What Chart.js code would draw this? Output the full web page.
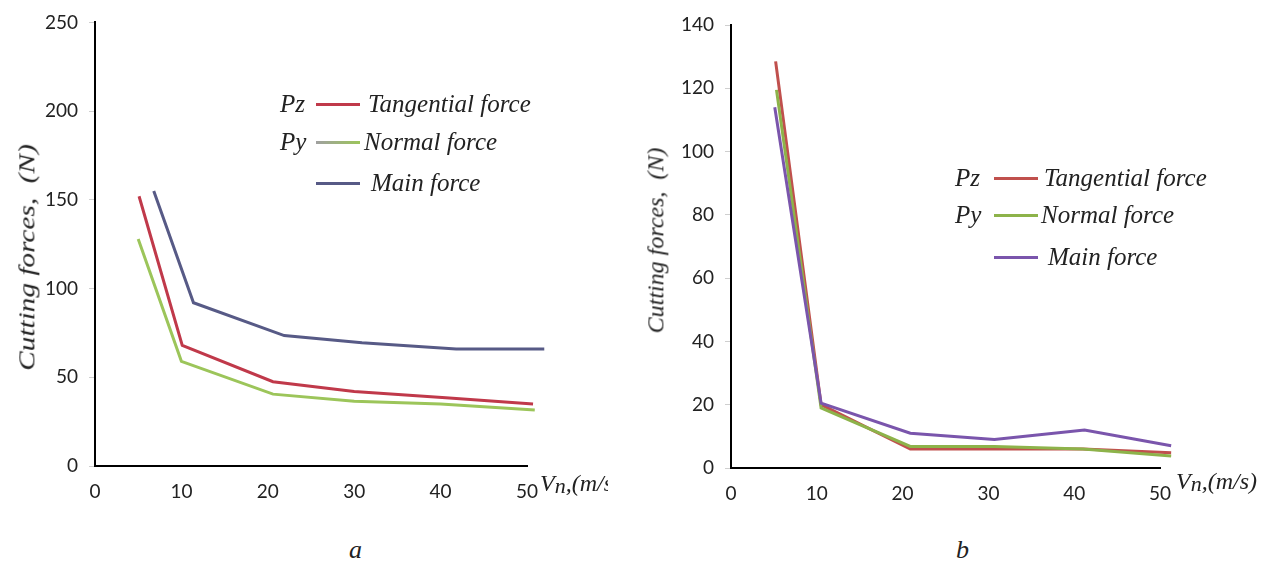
<!DOCTYPE html>
<html lang="en">
<head>
  <meta charset="UTF-8">
  <title>Cutting forces vs cutting speed</title>
  <script src="https://cdn.jsdelivr.net/npm/chart.js"></script>
  <style>
    body { margin: 0; background: #fff; width: 1271px; height: 562px; position: relative; overflow: hidden; }
    .panel { position: absolute; top: 0; height: 520px; }
    .serif { font-family: "Liberation Serif", "DejaVu Serif", serif; font-style: italic; color: #222; position: absolute; white-space: nowrap; }
    .ytitle { font-size: 24px; transform-origin: center center; }
    .leg { font-size: 25px; line-height: 25px; }
    .swatch { position: absolute; height: 3px; width: 44px; }
    .vn { font-size: 24px; overflow: hidden; }
    .vn sub { font-size: 22px; vertical-align: -2px; }
    .cap { font-size: 26px; }
  </style>
</head>
<body>
  <div class="panel" style="left:0;width:640px"><canvas id="chartA"></canvas></div>
  <div class="panel" style="left:640px;width:631px"><canvas id="chartB"></canvas></div>

  <!-- axis titles -->
  <div class="serif ytitle" id="ytA">Cutting forces,&nbsp; (N)</div>
  <div class="serif ytitle" id="ytB">Cutting forces,&nbsp; (N)</div>
  <div class="serif vn" style="left:540px;top:470px;width:68px;height:34px">V<sub>n</sub>,(m/s)</div>
  <div class="serif vn" style="left:1176px;top:468px;width:93px;height:34px">V<sub>n</sub>,(m/s)</div>

  <!-- legends -->
  <div class="serif leg" style="left:280px;top:91px">Pz</div>
  <div class="swatch" style="left:316px;top:103px;background:#c0394a"></div>
  <div class="serif leg" style="left:368px;top:91px">Tangential force</div>
  <div class="serif leg" style="left:280px;top:129px">Py</div>
  <div class="swatch" style="left:316px;top:141px;background:linear-gradient(90deg,#a0a0a0,#9cc55a)"></div>
  <div class="serif leg" style="left:364px;top:129px">Normal force</div>
  <div class="swatch" style="left:316px;top:182px;background:#575a86"></div>
  <div class="serif leg" style="left:371px;top:170px">Main force</div>

  <div class="serif leg" style="left:955px;top:165px">Pz</div>
  <div class="swatch" style="left:994px;top:177px;background:#c0504d"></div>
  <div class="serif leg" style="left:1044px;top:165px">Tangential force</div>
  <div class="serif leg" style="left:955px;top:202px">Py</div>
  <div class="swatch" style="left:994px;top:214px;background:#8db34a"></div>
  <div class="serif leg" style="left:1041px;top:202px">Normal force</div>
  <div class="swatch" style="left:994px;top:256px;background:#7a55ac"></div>
  <div class="serif leg" style="left:1048px;top:244px">Main force</div>

  <div class="serif cap" style="left:349px;top:535px">a</div>
  <div class="serif cap" style="left:956px;top:535px">b</div>

  <script>
    // panel a
    const aPzX = [5.1, 10.1, 20.6, 30, 40.6, 50.7];
    const aPzY = [152, 68, 47.5, 42, 38.5, 35];
    const aPyX = [5, 10, 20.6, 30, 40, 50.9];
    const aPyY = [128, 59, 40.5, 36.5, 35, 31.5];
    const aMainX = [6.8, 11.4, 21.9, 30.9, 41.8, 52];
    const aMainY = [155, 92, 73.5, 69.5, 66, 66];

    // panel b
    const bPzX = [5.2, 10.5, 20.9, 30.7, 41, 51.3];
    const bPzY = [128.5, 20, 6, 6, 6, 4.8];
    const bPyX = [5.3, 10.5, 20.9, 30.7, 41, 51.3];
    const bPyY = [119.5, 19, 6.8, 6.8, 6, 3.8];
    const bMainX = [5.1, 10.5, 20.9, 30.7, 41.2, 51.3];
    const bMainY = [114, 20.5, 11, 9, 12, 7];

    const xTicks = [0, 10, 20, 30, 40, 50];

    function pts(xs, ys) {
      return xs.map((x, i) => ({ x: x, y: ys[i] }));
    }

    function line(label, xs, ys, color, order) {
      return {
        label: label,
        data: pts(xs, ys),
        borderColor: color,
        borderWidth: 3,
        pointRadius: 0,
        tension: 0,
        clip: false,
        order: order
      };
    }

    function makeChart(id, box, yMax, yStep, datasets) {
      const canvas = document.getElementById(id);
      canvas.width = box.w;
      canvas.height = 520;
      canvas.style.width = box.w + 'px';
      canvas.style.height = '520px';
      return new Chart(canvas.getContext('2d'), {
        type: 'line',
        data: { datasets: datasets },
        options: {
          responsive: false,
          animation: false,
          layout: { padding: { left: 0, top: box.top, right: box.w - box.right, bottom: 0 } },
          plugins: { legend: { display: false }, tooltip: { enabled: false } },
          scales: {
            x: {
              type: 'linear',
              min: 0,
              max: 50,
              afterBuildTicks: s => { s.ticks = xTicks.map(v => ({ value: v })); },
              afterFit: s => { s.height = 520 - box.bottom; },
              grid: { display: false, drawTicks: false },
              border: { color: '#000', width: 2 },
              ticks: { padding: 14, color: '#222', font: { family: 'Lato', size: 19 } }
            },
            y: {
              min: 0,
              max: yMax,
              afterFit: s => { s.width = box.left; },
              grid: { drawOnChartArea: false, drawTicks: true, tickLength: 6, tickColor: '#cfcfcf' },
              border: { color: '#000', width: 2 },
              ticks: { stepSize: yStep, padding: 11, color: '#222', font: { family: 'Lato', size: 19 } }
            }
          }
        }
      });
    }

    makeChart('chartA', { w: 640, left: 95, right: 527, top: 22, bottom: 466 }, 250, 50, [
      line('Pz Tangential force', aPzX, aPzY, '#c0394a', 2),
      line('Py Normal force', aPyX, aPyY, '#9cc55a', 3),
      line('Main force', aMainX, aMainY, '#575a86', 1)
    ]);

    makeChart('chartB', { w: 631, left: 91, right: 520, top: 25, bottom: 468 }, 140, 20, [
      line('Pz Tangential force', bPzX, bPzY, '#c0504d', 3),
      line('Py Normal force', bPyX, bPyY, '#8db34a', 2),
      line('Main force', bMainX, bMainY, '#7a55ac', 1)
    ]);

    // place rotated y titles
    function placeTitle(id, cx, cy, stretch) {
      const el = document.getElementById(id);
      const w = el.offsetWidth, h = el.offsetHeight;
      el.style.left = (cx - w / 2) + 'px';
      el.style.top = (cy - h / 2) + 'px';
      el.style.transform = 'rotate(-90deg) scaleX(' + stretch + ')';
    }
    placeTitle('ytA', 27, 257, 1.22);
    placeTitle('ytB', 656, 240, 1.0);
  </script>
</body>
</html>
